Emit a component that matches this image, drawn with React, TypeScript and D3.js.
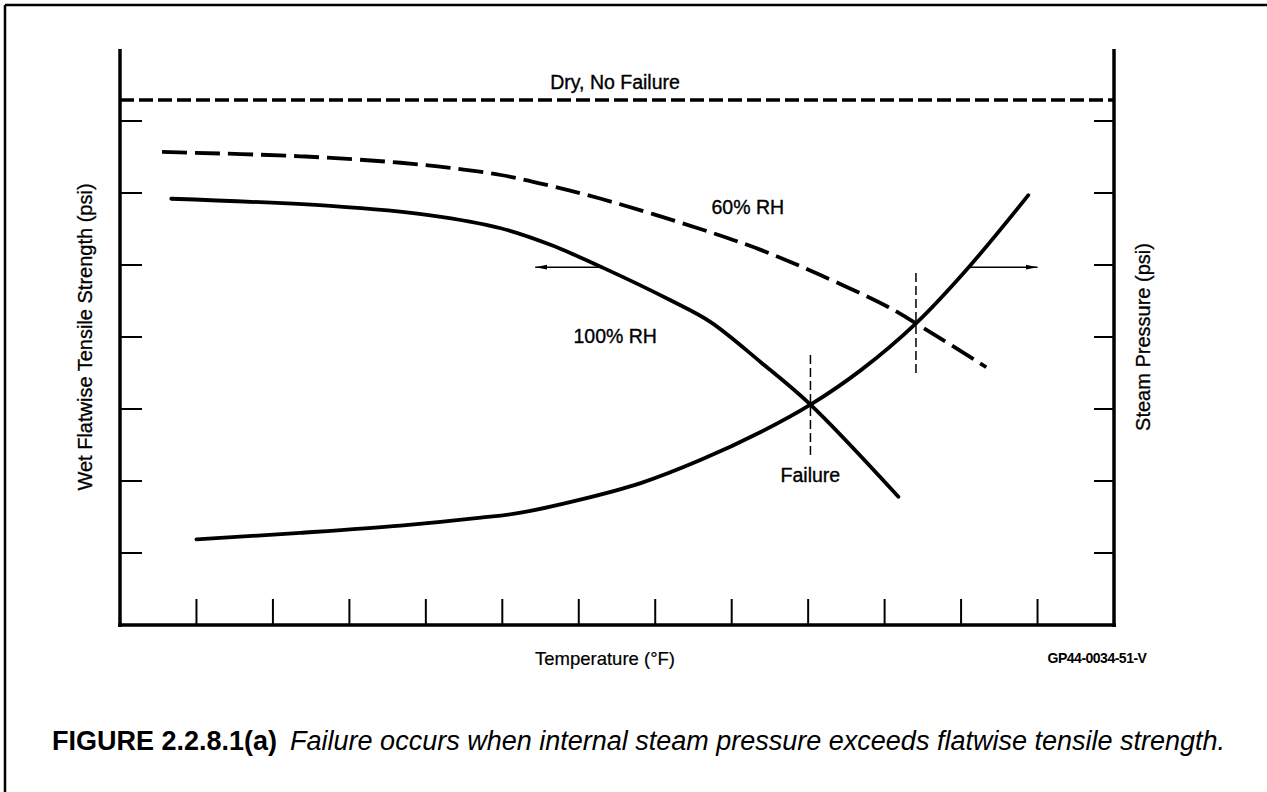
import React from "react";
import * as d3 from "d3";

// ---------- data (chart units: x = temperature tick index, y = grid units) ----------
const xTicks = [0, 1, 2, 3, 4, 5, 6, 7, 8, 9, 10, 11];
const yTicks = [1, 2, 3, 4, 5, 6, 7];

const dryLevel = 7.29;

const rh100X = [-0.33, 1.75, 3.06, 3.98, 4.63, 5.32, 6.2, 6.72, 7.38, 8.03, 9.18];
const rh100Y = [5.92, 5.82, 5.69, 5.51, 5.28, 4.96, 4.51, 4.21, 3.65, 3.06, 1.78];

const rh60X = [-0.45, 1.36, 2.67, 3.32, 3.98, 4.63, 5.29, 6.59, 7.38, 8.16, 9.04, 9.41, 10.33];
const rh60Y = [6.57, 6.51, 6.42, 6.35, 6.25, 6.1, 5.92, 5.5, 5.21, 4.86, 4.42, 4.19, 3.58];

const steamX = [0, 1.36, 2.67, 3.72, 4.24, 5.02, 5.81, 6.59, 7.38, 8.03, 8.69, 9.41, 10.1, 10.88];
const steamY = [1.19, 1.28, 1.38, 1.49, 1.56, 1.74, 1.97, 2.29, 2.68, 3.06, 3.54, 4.19, 4.97, 5.97];

const failureX = [8.03, 9.41];
const failureTop = [3.75, 4.89];
const failureBottom = [2.33, 3.47];

const arrowY = [4.97, 4.97];
const arrowFrom = [5.32, 10.1];
const arrowTo = [4.43, 11.0];

const FONT = "'Liberation Sans', Arial, Helvetica, sans-serif";

export default function App() {
  const W = 1267;
  const H = 792;
  const x = d3.scaleLinear().domain([-1, 12]).range([120, 1114]);
  const y = d3.scaleLinear().domain([0, 8]).range([625, 49]);

  const line = d3
    .line<[number, number]>()
    .x((d) => x(d[0]))
    .y((d) => y(d[1]))
    .curve(d3.curveCatmullRom.alpha(0.5));

  const zip = (a: number[], b: number[]) => a.map((v, i) => [v, b[i]] as [number, number]);

  const x0 = x(-1);
  const x1 = x(12);
  const yb = y(0);
  const yt = y(8);

  return (
    <svg
      width={W}
      height={H}
      style={{ position: "absolute", left: 0, top: 0, background: "#fff" }}
      fontFamily={FONT}
    >
      <defs>
        <marker
          id="ah"
          viewBox="0 0 12 6"
          refX="12"
          refY="3"
          markerWidth="12"
          markerHeight="6"
          markerUnits="userSpaceOnUse"
          orient="auto"
        >
          <path d="M0,0.6 L12,3 L0,5.4 Z" fill="#000" />
        </marker>
      </defs>
      <rect width={W} height={H} fill="#fff" />
      {/* outer frame (top and left edges visible) */}
      <line x1={5} y1={5} x2={W} y2={5} stroke="#000" strokeWidth={2.5} />
      <line x1={5} y1={5} x2={5} y2={H} stroke="#000" strokeWidth={2.5} />

      {/* axes */}
      <line x1={x0} y1={yt} x2={x0} y2={yb + 2} stroke="#000" strokeWidth={3.5} />
      <line x1={x1} y1={yt} x2={x1} y2={yb + 2} stroke="#000" strokeWidth={3.5} />
      <line x1={x0 - 2} y1={yb} x2={x1 + 2} y2={yb} stroke="#000" strokeWidth={3.5} />

      {/* x ticks */}
      {xTicks.map((t) => (
        <line key={"xt" + t} x1={x(t)} x2={x(t)} y1={yb} y2={yb - 26} stroke="#000" strokeWidth={2} />
      ))}
      {/* y ticks left & right */}
      {yTicks.map((t) => (
        <g key={"yt" + t}>
          <line x1={x0} x2={x0 + 22} y1={y(t)} y2={y(t)} stroke="#000" strokeWidth={2} />
          <line x1={x1 - 20} x2={x1} y1={y(t)} y2={y(t)} stroke="#000" strokeWidth={2} />
        </g>
      ))}

      {/* dry line */}
      <line
        x1={x0}
        x2={x1}
        y1={y(dryLevel)}
        y2={y(dryLevel)}
        stroke="#000"
        strokeWidth={3.5}
        strokeDasharray="14 5"
      />

      {/* curves */}
      <path d={line(zip(rh60X, rh60Y)) || ""} fill="none" stroke="#000" strokeWidth={3.8} strokeDasharray="25 8" />
      <path d={line(zip(rh100X, rh100Y)) || ""} fill="none" stroke="#000" strokeWidth={3.8} strokeLinecap="round" />
      <path d={line(zip(steamX, steamY)) || ""} fill="none" stroke="#000" strokeWidth={3.8} strokeLinecap="round" />

      {/* failure markers */}
      {failureX.map((fx, i) => (
        <line
          key={"f" + i}
          x1={x(fx)}
          x2={x(fx)}
          y1={y(failureTop[i])}
          y2={y(failureBottom[i])}
          stroke="#000"
          strokeWidth={1.5}
          strokeDasharray="9 4"
        />
      ))}

      {/* arrows */}
      {arrowFrom.map((a, i) => (
        <line
          key={"a" + i}
          x1={x(a)}
          x2={x(arrowTo[i])}
          y1={y(arrowY[i])}
          y2={y(arrowY[i])}
          stroke="#000"
          strokeWidth={1.5}
          markerEnd="url(#ah)"
        />
      ))}

      {/* labels in plot */}
      <g fontSize={19.5} fill="#000" stroke="#000" strokeWidth={0.35}>
        <text x={x(5.474)} y={y(7.44)} textAnchor="middle">Dry, No Failure</text>
        <text x={x(6.736)} y={y(5.708)}>60% RH</text>
        <text x={x(4.931)} y={y(3.917)}>100% RH</text>
        <text x={x(7.639)} y={y(1.986)}>Failure</text>
      </g>

      {/* axis titles */}
      <text
        transform={`translate(92, ${(yt + yb) / 2}) rotate(-90)`}
        textAnchor="middle"
        fontSize={20}
        stroke="#000"
        strokeWidth={0.3}
      >
        Wet Flatwise Tensile Strength (psi)
      </text>
      <text
        transform={`translate(1150, ${(yt + yb) / 2}) rotate(-90)`}
        textAnchor="middle"
        fontSize={20}
        stroke="#000"
        strokeWidth={0.3}
      >
        Steam Pressure (psi)
      </text>
      <text x={605} y={665} textAnchor="middle" fontSize={18.5} stroke="#000" strokeWidth={0.2}>
        Temperature (°F)
      </text>
      <text x={1097} y={663} textAnchor="middle" fontSize={14} fontWeight="bold" letterSpacing={-0.5}>
        GP44-0034-51-V
      </text>

      {/* caption */}
      <text x={52} y={750} fontSize={27}>
        <tspan fontWeight="bold">FIGURE 2.2.8.1(a)</tspan>
        <tspan dx={13} fontStyle="italic">
          Failure occurs when internal steam pressure exceeds flatwise tensile strength.
        </tspan>
      </text>
    </svg>
  );
}
